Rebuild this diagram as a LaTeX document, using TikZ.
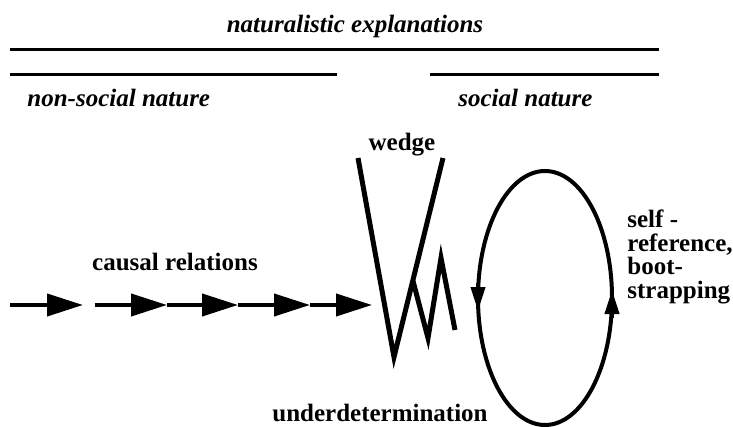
\documentclass[tikz,border=0pt]{standalone}
\usepackage{fontspec}
\setmainfont{Liberation Serif}
\usetikzlibrary{arrows.meta}
\tikzset{caption_text/.style={inner sep=0pt, font=\fontsize{12.5}{12}\selectfont\bfseries\itshape}}
\tikzset{plain_text/.style={inner sep=0pt, align=left, font=\fontsize{12.5}{11.75}\selectfont\bfseries}}
\tikzset{rule_line/.style={line width=1.5pt}}
\tikzset{chain_arrow/.style={line width=2pt, -{Triangle[length=18pt,width=11pt]}}}
\tikzset{wedge_line/.style={line width=2.5pt, line join=miter, miter limit=20}}
\tikzset{loop_line/.style={line width=2pt}}
\tikzset{loop_arrow/.style={line width=2pt, -{Triangle[length=12pt,width=7pt]}}}

\begin{document}
\begin{tikzpicture}[x=0.5pt,y=-0.5pt]
    \useasboundingbox (0,0) rectangle (733,427);
    % headings
    \node[caption_text] (natural) at (355,26) {naturalistic explanations};
    \draw \foreach \x/\y/\n in {10/50/a,659/50/b,10/75/c,337/75/d,430/75/e,659/75/f}{(\x,\y) coordinate(r\n)};
    \draw[rule_line] (ra)--(rb);
    \draw[rule_line] (rc)--(rd);
    \draw[rule_line] (re)--(rf);
    \node[caption_text,anchor=west] (nonsocial) at (27,98) {non-social nature};
    \node[caption_text,anchor=west] (social) at (458,98) {social nature};
    % causal chain
    \node[plain_text] (causal) at (175,262) {causal relations};
    \draw \foreach \x/\n in {10/0,83/1,95/2,167/3,238/4,310/5,372/6}{(\x,305) coordinate(c\n)};
    \draw[chain_arrow] (c0)--(c1);
    \foreach \a/\b in {2/3,3/4,4/5,5/6} \draw[chain_arrow] (c\a)--(c\b);
    % wedge
    \node[plain_text] (wedge) at (402,145) {wedge};
    \draw (358,158) coordinate(w0) (394,357) coordinate(w1) (443,158) coordinate(w2);
    \draw (413,281) coordinate(z0) (428,338) coordinate(z1) (441,258) coordinate(z2) (455,330) coordinate(z3);
    \draw[wedge_line] (w0)--(w1)--(w2);
    \draw[wedge_line] (z0)--(z1)--(z2)--(z3);
    \node[plain_text] (under) at (380,413) {underdetermination};
    % loop
    \draw (545,298) coordinate(e0) (478,283) coordinate(e1) (478,311) coordinate(e2) (612,318) coordinate(e3) (612,290) coordinate(e4);
    \draw[loop_line] (e0) ellipse[x radius=67, y radius=127];
    \draw[loop_arrow] (e1)--(e2);
    \draw[loop_arrow] (e3)--(e4);
    \node[plain_text,anchor=west] (selfref) at (627,257) {self -\\reference,\\boot-\\strapping};
\end{tikzpicture}
\end{document}
